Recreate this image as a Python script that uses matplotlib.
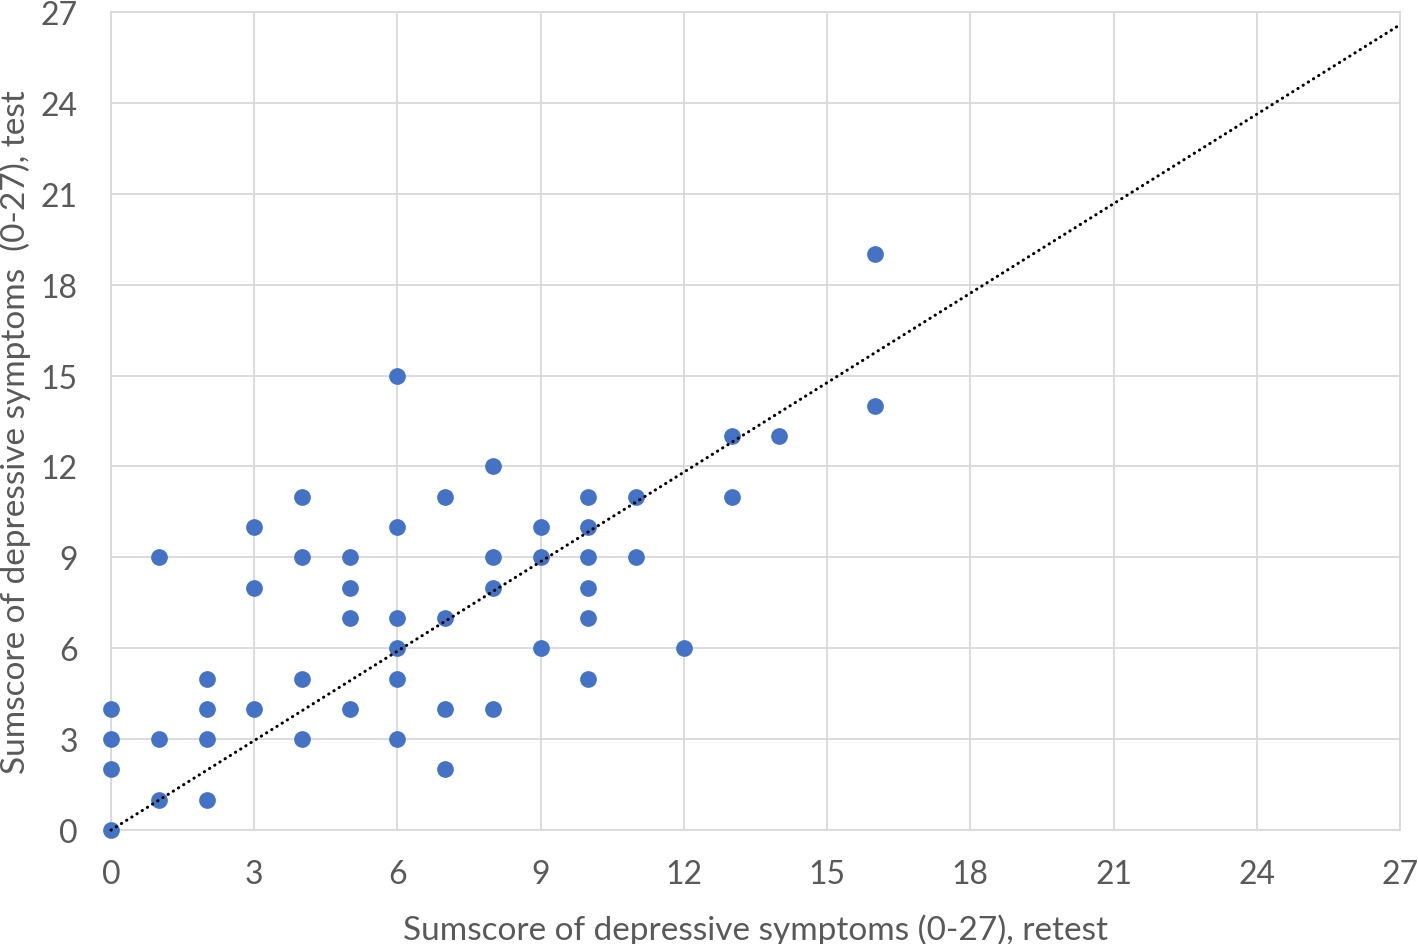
import numpy as np
import matplotlib.pyplot as plt

# ---------- data ----------
retest = [0, 0, 0, 0,
          1, 1, 1,
          2, 2, 2, 2,
          3, 3, 3,
          4, 4, 4, 4,
          5, 5, 5, 5,
          6, 6, 6, 6, 6, 6,
          7, 7, 7, 7,
          8, 8, 8, 8,
          9, 9, 9,
          10, 10, 10, 10, 10, 10,
          11, 11,
          12,
          13, 13,
          14,
          16, 16]
test = [0, 2, 3, 4,
        1, 3, 9,
        1, 3, 4, 5,
        4, 8, 10,
        3, 5, 9, 11,
        4, 7, 8, 9,
        3, 5, 6, 7, 10, 15,
        2, 4, 7, 11,
        4, 8, 9, 12,
        6, 9, 10,
        5, 7, 8, 9, 10, 11,
        9, 11,
        6,
        11, 13,
        13,
        14, 19]
ticks = list(range(0, 28, 3))
# ---------------------------------------------------

x = np.array(retest, dtype=float)
y = np.array(test, dtype=float)
slope = (x * y).sum() / (x * x).sum()   # linear trend through origin

plt.rcParams['font.family'] = ['Lato', 'DejaVu Sans']
GREY = '#595959'

fig = plt.figure(figsize=(14.18, 9.45), dpi=100)
ax = fig.add_axes([0.0783, 0.1206, 0.9090, 0.8656])

ax.scatter(x, y, s=145, color='#4472C4', zorder=3, linewidths=0, clip_on=False)
xs = np.array([0, 27])
ax.plot(xs, slope * xs, color='black', lw=2.2, linestyle=(0, (0.1, 1.9)),
        dash_capstyle='round', zorder=4, clip_on=False)

ax.set_xlim(0, 27)
ax.set_ylim(0, 27)
ax.set_xticks(ticks)
ax.set_yticks(ticks)
ax.grid(True, color='#D9D9D9', lw=1.3)
ax.set_axisbelow(True)
for sp in ax.spines.values():
    sp.set_color('#D9D9D9')
    sp.set_linewidth(1.3)
ax.tick_params(length=0, labelsize=23, labelcolor=GREY)
ax.tick_params(axis='x', pad=21)
ax.tick_params(axis='y', pad=24)

# axis titles placed as in the reference
fig.text(756 / 1418, 1 - 930 / 945, 'Sumscore of depressive symptoms (0-27), retest',
         fontsize=24, color=GREY, ha='center', va='center')
fig.text(15 / 1418, 1 - 432 / 945, 'Sumscore of depressive symptoms  (0-27), test',
         fontsize=24, color=GREY, ha='center', va='center', rotation=90)

fig.savefig('out.png', dpi=100)
